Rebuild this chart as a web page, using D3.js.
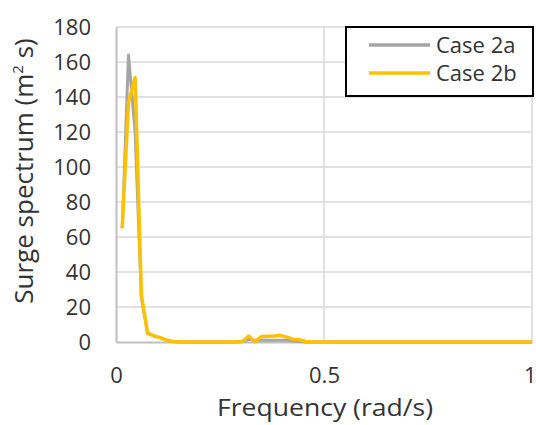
<!DOCTYPE html>
<html><head><meta charset="utf-8">
<script src="https://cdn.jsdelivr.net/npm/d3@7"></script>
<style>body{margin:0;background:#fff}svg{display:block}text{font-family:"Open Sans","Noto Sans",sans-serif;fill:#333}</style>
</head><body>
<script>
const freq = [0.015,0.030,0.046,0.061,0.076,0.091,0.106,0.122,0.137,0.152,0.167,0.182,0.198,0.213,0.228,0.243,0.258,0.274,0.289,0.304,0.319,0.334,0.350,0.365,0.380,0.395,0.410,0.426,0.441,0.456,0.471,0.50,0.75,1.0];
const case2a = [65,164,120,25,5,3.5,2.5,1,0.3,0,0,0,0,0,0,0,0,0,0,0.3,1.5,1,1,1,1,1,1,0.5,0.3,0,0,0,0,0];
const case2b = [65,137,151,27,5,3.5,2.5,1,0.3,0,0,0,0,0,0,0,0,0,0,0.3,3.4,0.2,3.2,3.3,3.4,3.8,2.8,1.6,1.4,0.3,0,0,0,0];
const seriesNames = ["Case 2a","Case 2b"];
const yTicks = [0,20,40,60,80,100,120,140,160,180];
const xTicks = [0,0.5,1];
const colors = ["#A5A5A5","#FFC000"];

const W=536,H=425;
const svg=d3.select("body").append("svg").attr("width",W).attr("height",H);
const x=d3.scaleLinear().domain([0,1]).range([116,532]);
const y=d3.scaleLinear().domain([0,180]).range([342,27]);

// grid
svg.append("g").selectAll("line").data(yTicks.slice(1)).join("line")
 .attr("x1",x(0)).attr("x2",x(1)).attr("y1",d=>y(d)).attr("y2",d=>y(d))
 .attr("stroke","#d9d9d9").attr("stroke-width",1.5);
svg.append("g").selectAll("line").data(xTicks.slice(1)).join("line")
 .attr("x1",d=>x(d)).attr("x2",d=>x(d)).attr("y1",y(0)).attr("y2",y(180))
 .attr("stroke","#d9d9d9").attr("stroke-width",1.5);

// axes
const ya=svg.append("g").attr("transform",`translate(${x(0)},0)`)
 .call(d3.axisLeft(y).tickValues(yTicks).tickSize(0).tickPadding(25));
ya.select(".domain").attr("stroke","#bfbfbf").attr("stroke-width",2);
ya.selectAll("text").style("font-size","22px").attr("fill","#333");
const xa=svg.append("g").attr("transform",`translate(0,${y(0)})`)
 .call(d3.axisBottom(x).tickValues(xTicks).tickFormat(d3.format("")).tickSize(0).tickPadding(25));
xa.select(".domain").attr("stroke","#bfbfbf").attr("stroke-width",2);
xa.selectAll("text").style("font-size","22px").attr("fill","#333")
 .filter(d=>d===1).attr("text-anchor","end").attr("x",W-x(1));

// lines
const data=[case2a,case2b];
const line=d3.line().x((d,i)=>x(freq[i])).y(d=>y(d));
data.forEach((s,k)=>{
 svg.append("path").datum(s).attr("d",line).attr("fill","none")
  .attr("stroke",colors[k]).attr("stroke-width",k?3.5:3).attr("stroke-linejoin","round");
});

// titles
svg.append("text").attr("x",325).attr("y",416).attr("text-anchor","middle")
 .style("font-size","24px").attr("textLength",216).attr("lengthAdjust","spacingAndGlyphs").text("Frequency (rad/s)");
const yt=svg.append("text").attr("transform","translate(33,171) rotate(-90)").attr("text-anchor","middle")
 .style("font-size","26px");
yt.append("tspan").text("Surge spectrum (m");
yt.append("tspan").text("2").style("font-size","15px").attr("dy",-10);
yt.append("tspan").text(" s)").attr("dy",10);

// legend
const lg=svg.append("g");
lg.append("rect").attr("x",346).attr("y",27).attr("width",187).attr("height",69)
 .attr("fill","#fff").attr("stroke","#000").attr("stroke-width",2);
seriesNames.forEach((n,k)=>{
 const yy=45+k*28;
 lg.append("line").attr("x1",369).attr("x2",430).attr("y1",yy).attr("y2",yy)
  .attr("stroke",colors[k]).attr("stroke-width",3.5);
 lg.append("text").attr("x",436).attr("y",yy+8).style("font-size","22px").text(n);
});
</script>
</body></html>
